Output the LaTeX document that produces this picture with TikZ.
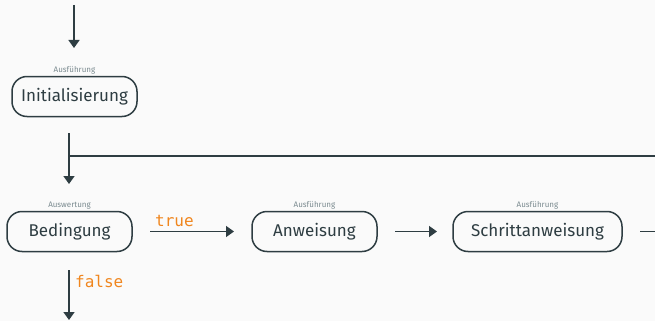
\documentclass[tikz,border=0pt]{standalone}
\usepackage{fontspec}
\setmainfont{Fira Sans}
\setmonofont{DejaVu Sans Mono}
\usetikzlibrary{arrows.meta,calc}
\definecolor{ink}{HTML}{2E3D42}
\definecolor{lbl}{HTML}{7B8B90}
\definecolor{kw}{HTML}{F0861E}
\definecolor{bg}{HTML}{FAFAFA}
\tikzset{
  stepbox/.style={draw=ink, line width=1.5pt, rounded corners=15pt, minimum height=40pt,
    minimum width=125pt, inner sep=0pt, text=ink, font=\fontsize{17}{20}\selectfont},
  phase/.style={text=lbl, font=\fontsize{8}{9}\selectfont, inner sep=0pt},
  flow/.style={draw=ink, line width=1.5pt, -{Triangle[width=11pt,length=8pt]}},
  plain/.style={draw=ink, line width=1.5pt},
  kwlabel/.style={text=kw, font=\ttfamily\fontsize{16}{18}\selectfont, inner sep=0pt}
}
\begin{document}
\begin{tikzpicture}[x=1pt,y=-1pt]
\fill[bg] (0,0) rectangle (655,321);
\useasboundingbox (0,0) rectangle (655,321);

\node[stepbox] (init) at (74.5,96.5) {Initialisierung};
\node[stepbox] (bed) at (69.5,231.5) {Bedingung};
\node[stepbox] (anw) at (314.5,231.5) {Anweisung};
\node[stepbox, minimum width=169pt] (schritt) at (537.5,231.5) {Schrittanweisung};

\node[phase, anchor=base] (linit) at (74.5,72) {Ausführung};
\node[phase, anchor=base] (lbed) at (69.5,207) {Auswertung};
\node[phase, anchor=base] (lanw) at (314.5,207) {Ausführung};
\node[phase, anchor=base] (lschritt) at (537.5,207) {Ausführung};

\coordinate (topA) at (74,5);
\coordinate (topB) at (74,48);
\coordinate (midA) at (69,133);
\coordinate (midJ) at (69,156);
\coordinate (midB) at (69,184);
\coordinate (loopR) at (656,156);
\coordinate (trueA) at (150,231.5);
\coordinate (trueB) at (234,231.5);
\coordinate (asA) at (395,231.5);
\coordinate (asB) at (437,231.5);
\coordinate (outA) at (640,231.5);
\coordinate (outB) at (656,231.5);
\coordinate (falseA) at (69,270);
\coordinate (falseB) at (69,320);

\draw[flow] (topA) -- (topB);
\draw[flow] (midA) -- (midB);
\draw[plain] (midJ) -- (loopR);
\draw[flow] (trueA) -- (trueB);
\draw[flow] (asA) -- (asB);
\draw[plain] (outA) -- (outB);
\draw[flow] (falseA) -- (falseB);

\node[kwlabel, anchor=base west] (ltrue) at (155,226) {true};
\node[kwlabel, anchor=base west] (lfalse) at (75,287) {false};
\end{tikzpicture}
\end{document}
